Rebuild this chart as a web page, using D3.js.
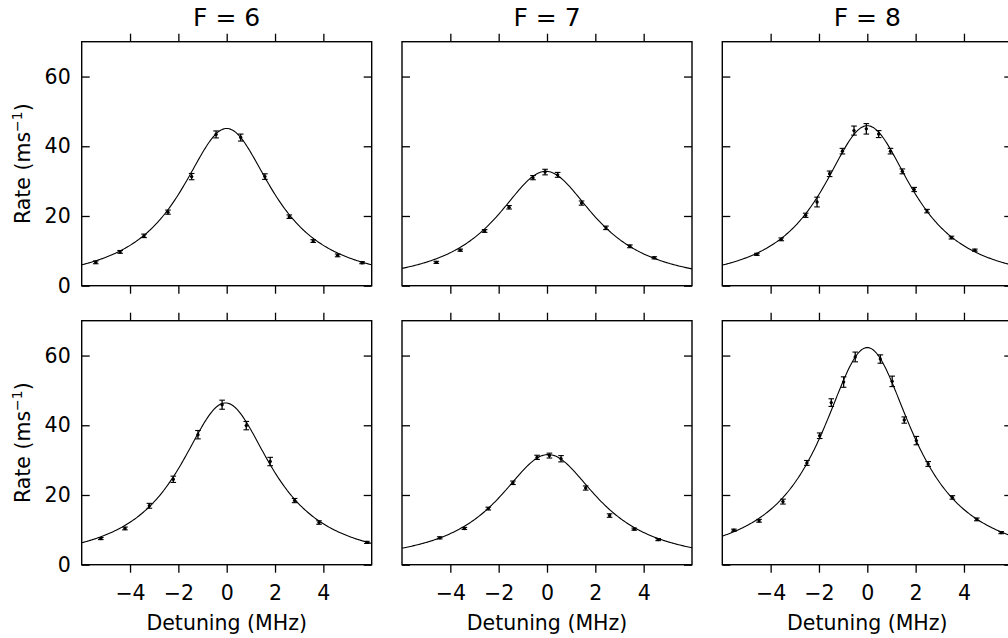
<!DOCTYPE html>
<meta charset="utf-8">
<style>
body { margin: 0; background: #fff; }
svg { font-family: "DejaVu Sans", sans-serif; }
.tick line { stroke: #000; stroke-width: 1.3; }
.domain { display: none; }
</style>
<svg width="1008" height="638"></svg>
<script src="https://cdn.jsdelivr.net/npm/d3@7"></script>
<script>

var titles = ["F = 6", "F = 7", "F = 8"];

// detuning (MHz), rate (ms^-1), error for each panel (row by row)
var det1 = [-5.42, -4.41, -3.42, -2.43, -1.45, -0.44, 0.58, 1.58, 2.59, 3.58, 4.59, 5.6];
var rate1 = [6.7, 9.7, 14.3, 21.1, 31.3, 43.4, 42.5, 31.3, 19.8, 12.8, 8.7, 6.6];
var err1 = [0.4, 0.4, 0.5, 0.6, 0.9, 1.0, 1.0, 0.8, 0.5, 0.4, 0.4, 0.3];

var det2 = [-4.58, -3.59, -2.58, -1.57, -0.58, -0.08, 0.44, 1.43, 2.44, 3.43, 4.44];
var rate2 = [6.7, 10.2, 15.7, 22.5, 31.0, 32.6, 31.8, 23.7, 16.6, 11.3, 8.0];
var err2 = [0.3, 0.3, 0.4, 0.5, 0.6, 0.8, 0.7, 0.6, 0.5, 0.4, 0.3];

var det3 = [-4.57, -3.56, -2.55, -2.08, -1.56, -1.03, -0.55, -0.04, 0.47, 0.96, 1.45, 1.94, 2.47, 3.48, 4.45];
var rate3 = [9.0, 13.3, 20.2, 24.0, 32.1, 38.6, 44.5, 45.0, 43.5, 38.6, 32.8, 27.6, 21.4, 13.8, 10.2];
var err3 = [0.3, 0.4, 0.6, 1.4, 0.8, 0.8, 1.3, 1.5, 1.0, 0.8, 0.7, 0.6, 0.5, 0.4, 0.3];

var det4 = [-5.21, -4.21, -3.2, -2.21, -1.19, -0.19, 0.81, 1.8, 2.81, 3.82, 5.8];
var rate4 = [7.5, 10.4, 16.9, 24.5, 37.3, 45.9, 39.9, 29.6, 18.4, 12.1, 6.4];
var err4 = [0.3, 0.4, 0.7, 0.9, 1.2, 1.3, 1.2, 1.2, 0.6, 0.5, 0.3];

var det5 = [-4.44, -3.42, -2.43, -1.41, -0.41, 0.1, 0.58, 1.6, 2.59, 3.61, 4.6];
var rate5 = [7.7, 10.4, 16.1, 23.5, 30.8, 31.3, 30.4, 22.0, 14.1, 10.2, 7.2];
var err5 = [0.3, 0.3, 0.4, 0.5, 0.6, 0.7, 0.9, 0.6, 0.5, 0.3, 0.3];

var det6 = [-5.52, -4.48, -3.49, -2.5, -1.97, -1.49, -0.98, -0.5, 0.54, 1.03, 1.53, 2.03, 2.52, 3.52, 4.53, 5.54];
var rate6 = [9.9, 12.6, 18.1, 29.2, 37.0, 46.5, 52.4, 59.6, 59.0, 52.6, 41.5, 35.6, 28.9, 19.3, 13.0, 9.2];
var err6 = [0.3, 0.4, 0.7, 0.7, 0.8, 1.1, 1.5, 1.4, 1.2, 1.5, 0.9, 1.2, 0.7, 0.5, 0.4, 0.3];

// Lorentzian fit parameters
var fitPeak = [45.1, 32.8, 45.9, 46.4, 31.6, 62.3];
var fitCenter = [0, -0.05, 0, -0.05, 0.05, 0];
var fitFwhm = [4.7, 5.03, 4.61, 4.71, 5.08, 4.67];

var xTicks = [-4, -2, 0, 2, 4];
var yTicks = [0, 20, 40, 60];

var panels = [
  [det1, rate1, err1], [det2, rate2, err2], [det3, rate3, err3],
  [det4, rate4, err4], [det5, rate5, err5], [det6, rate6, err6]
];

var svg = d3.select("svg");

var lefts = [81.7, 402, 722.3],
    tops = [41.7, 320.7],
    w = 290, h = 244,
    fs = 20.5;

var x = d3.scaleLinear().domain([-6, 6]).range([0, w]);
var y = d3.scaleLinear().domain([0, 70]).range([h, 0]);

var fmt = function(d) { return d < 0 ? "\u2212" + Math.abs(d) : d; };

svg.append("defs").append("clipPath").attr("id", "clip")
  .append("rect").attr("width", w).attr("height", h);

function styleAxis(sel) {
  sel.attr("font-family", "DejaVu Sans, sans-serif")
    .attr("font-size", fs);
  sel.selectAll(".tick text").attr("fill", "#000");
}

panels.forEach(function(p, i) {
  var col = i % 3, row = Math.floor(i / 3);
  var g = svg.append("g")
    .attr("transform", "translate(" + lefts[col] + "," + tops[row] + ")");

  // axes
  g.append("g")
    .attr("transform", "translate(0," + h + ")")
    .call(d3.axisBottom(x).tickValues(xTicks).tickSize(8).tickPadding(13)
      .tickFormat(row == 1 ? fmt : ""))
    .call(styleAxis);
  g.append("g")
    .call(d3.axisTop(x).tickValues(xTicks).tickSize(8).tickFormat(""));
  g.append("g")
    .call(d3.axisLeft(y).tickValues(yTicks).tickSize(-8).tickPadding(11)
      .tickFormat(col == 0 ? d3.format("d") : ""))
    .call(styleAxis);
  g.append("g")
    .attr("transform", "translate(" + w + ",0)")
    .call(d3.axisRight(y).tickValues(yTicks).tickSize(-8).tickFormat(""));

  // fit curve
  var A = fitPeak[i], c = fitCenter[i], f = fitFwhm[i];
  var xs = d3.range(-6, 6.001, 0.05);
  var line = d3.line()
    .x(function(d) { return x(d); })
    .y(function(d) { var u = 2 * (d - c) / f; return y(A / (1 + u * u)); });
  g.append("path")
    .datum(xs)
    .attr("clip-path", "url(#clip)")
    .attr("fill", "none")
    .attr("stroke", "#000")
    .attr("stroke-width", 1.1)
    .attr("d", line);

  // data with error bars
  var pts = p[0].map(function(d, j) { return { x: d, y: p[1][j], e: p[2][j] }; });
  var eb = g.selectAll(".eb").data(pts).enter().append("g");
  eb.append("line")
    .attr("x1", function(d) { return x(d.x); })
    .attr("x2", function(d) { return x(d.x); })
    .attr("y1", function(d) { return y(d.y - d.e); })
    .attr("y2", function(d) { return y(d.y + d.e); })
    .attr("stroke", "#000").attr("stroke-width", 1.3);
  [-1, 1].forEach(function(s) {
    eb.append("line")
      .attr("x1", function(d) { return x(d.x) - 2.8; })
      .attr("x2", function(d) { return x(d.x) + 2.8; })
      .attr("y1", function(d) { return y(d.y + s * d.e); })
      .attr("y2", function(d) { return y(d.y + s * d.e); })
      .attr("stroke", "#000").attr("stroke-width", 1.1);
  });
  eb.append("circle")
    .attr("cx", function(d) { return x(d.x); })
    .attr("cy", function(d) { return y(d.y); })
    .attr("r", 1.7)
    .attr("fill", "#000");

  // frame
  g.append("rect")
    .attr("width", w).attr("height", h)
    .attr("fill", "none").attr("stroke", "#000").attr("stroke-width", 1.4);

  if (row == 0) {
    g.append("text")
      .attr("x", w / 2).attr("y", -16)
      .attr("text-anchor", "middle")
      .attr("font-size", "25px")
      .text(titles[col]);
  }
  if (row == 1) {
    g.append("text")
      .attr("x", w / 2).attr("y", h + 65)
      .attr("text-anchor", "middle")
      .attr("font-size", fs + "px")
      .text("Detuning (MHz)");
  }
  if (col == 0) {
    var t = g.append("text")
      .attr("transform", "translate(-52," + (h / 2) + ") rotate(-90)")
      .attr("text-anchor", "middle")
      .attr("font-size", fs + "px");
    t.append("tspan").text("Rate (ms");
    t.append("tspan").attr("dy", -8).attr("font-size", "14px").text("\u22121");
    t.append("tspan").attr("dy", 8).text(")");
  }
});

</script>
